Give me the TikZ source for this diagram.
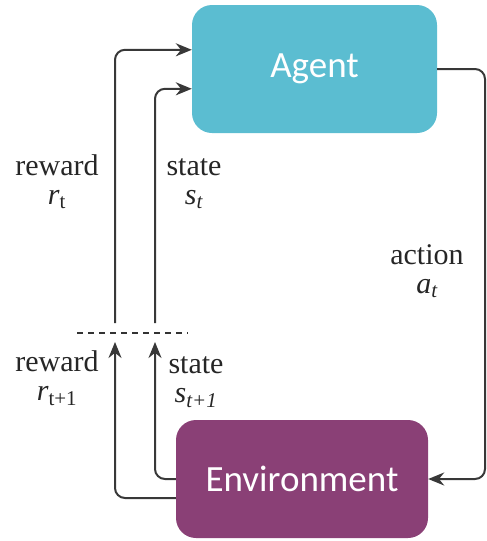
\documentclass[tikz,border=0pt]{standalone}
\usepackage{fontspec}
\setmainfont{Liberation Serif}
\newfontfamily\labelfont{Liberation Serif}
\newfontfamily\boxfont{Carlito}
\usetikzlibrary{arrows.meta,calc}
\tikzset{
  block/.style={draw=none, rounded corners=20pt, text=white, inner sep=0pt,
    font=\boxfont\fontsize{37}{42}\selectfont},
  link/.style={draw=black!78, line width=2pt, rounded corners=10pt},
  tip/.style={-{Stealth[length=16pt,width=13pt]}},
  lbl/.style={font=\labelfont\fontsize{30}{31}\selectfont, text=black!85, align=center, inner sep=0pt},
}
\begin{document}
\begin{tikzpicture}[x=1pt,y=-1pt]
\useasboundingbox (0,0) rectangle (487,541);
% the two boxes
\node[block, fill={rgb,255:red,91;green,189;blue,209}, minimum width=245pt, minimum height=128pt] (agent) at (314.5,69) {Agent};
\node[block, fill={rgb,255:red,138;green,64;blue,118}, minimum width=252pt, minimum height=118pt] (env) at (302,479) {Environment};
% time step boundary
\coordinate (dl) at (77,333);
\coordinate (dr) at (188,333);
\draw[black!80, line width=1.3pt, dash pattern=on 6pt off 5pt] (dl) -- (dr);
% signals leaving the boundary towards the agent
\coordinate (rup) at (115,323);
\coordinate (sup) at (155,323);
\draw[link, tip] (rup) |- ($(agent.north west)+(0,45)$);
\draw[link, tip] (sup) |- ($(agent.north west)+(0,84)$);
% action
\coordinate (rc) at (485,0);
\draw[link, tip] (agent.east) -| (rc |- env.east) -- (env.east);
% signals from the environment up to the boundary
\coordinate (rlo) at (115,342);
\coordinate (slo) at (155,342);
\draw[link, tip] ($(env.west)+(0,19)$) -| (rlo);
\draw[link, tip] (env.west) -| (slo);
% labels
\node[lbl] (l1) at (57,182) {reward\\[-2pt]\textit{r}\textsubscript{t}};
\node[lbl] (l2) at (194,184) {state\\[-2pt]\textit{s\textsubscript{t}}};
\node[lbl] (l3) at (427,271) {action\\[-2pt]\textit{a\textsubscript{t}}};
\node[lbl] (l4) at (57,378) {reward\\[-2pt]\textit{r}\textsubscript{t+1}};
\node[lbl] (l5) at (196,382) {state\\[-2pt]\textit{s\textsubscript{t+1}}};
\end{tikzpicture}
\end{document}
